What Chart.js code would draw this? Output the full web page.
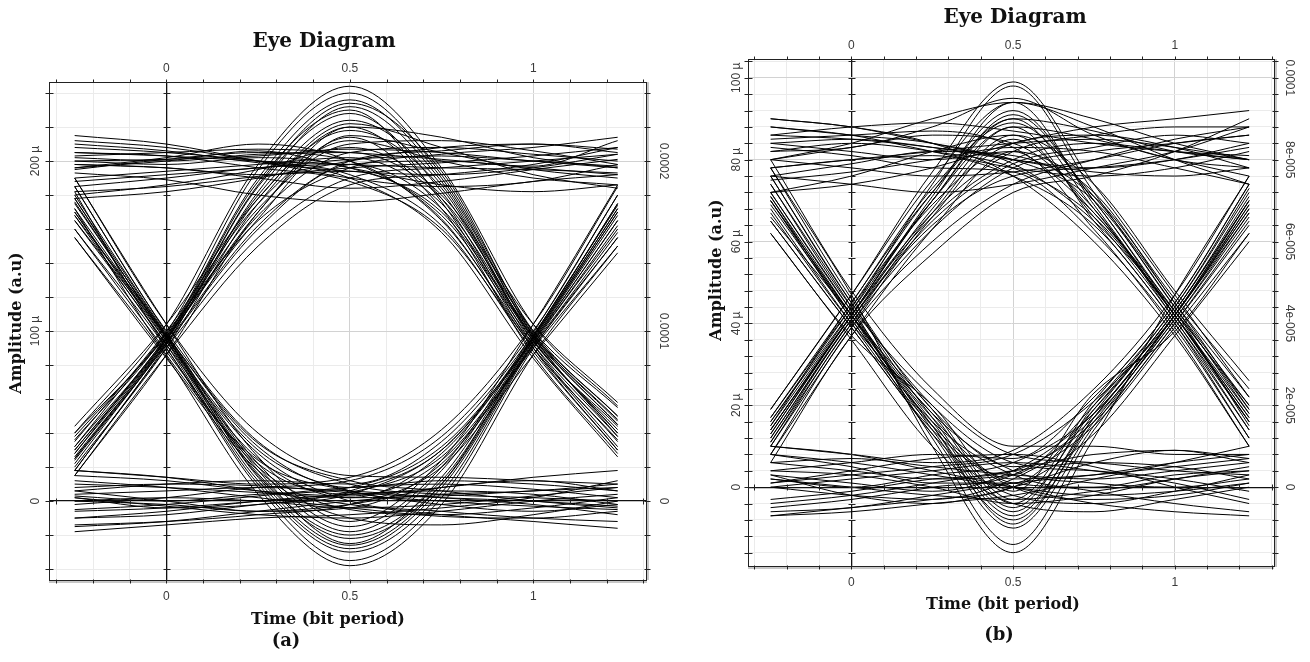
<!DOCTYPE html>
<html>
<head>
<meta charset="utf-8">
<script src="https://cdn.jsdelivr.net/npm/chart.js@4.4.1/dist/chart.umd.min.js"></script>
<style>
html, body { margin: 0; padding: 0; background: #fff; }
#wrapA { position: absolute; left: 0; top: 0; width: 700px; height: 662px; }
#wrapB { position: absolute; left: 700px; top: 0; width: 610px; height: 662px; }
</style>
</head>
<body>
<div id="wrapA"><canvas id="chartA" width="700" height="662"></canvas></div>
<div id="wrapB"><canvas id="chartB" width="610" height="662"></canvas></div>
<script>
// time samples of every trace (bit period)
const tSamples = [-0.25, 0, 0.25, 0.5, 0.75, 1, 1.23];

// shared x axis
const xMin = -0.32, xMax = 1.31;
const xGrid = [-0.3, -0.2, -0.1, 0, 0.1, 0.2, 0.3, 0.4, 0.5, 0.6, 0.7, 0.8, 0.9, 1, 1.1, 1.2, 1.3];
const xLabelVals = [0, 0.5, 1];
const xLabels = ['0', '0.5', '1'];

// ---- panel (a) : amplitude in µ ----
const yMinA = -47, yMaxA = 246.5;
const yGridA = [-40, -20, 0, 20, 40, 60, 80, 100, 120, 140, 160, 180, 200, 220, 240];
const yLabelValsA = [0, 100, 200];
const yLeftLabelsA = ['0', '100 µ', '200 µ'];
const yRightLabelsA = ['0', '0.0001', '0.0002'];

const a111 = [
  [205, 203, 200, 198, 196, 195, 193],
  [188, 192, 196, 201, 203, 200, 197],
  [198, 196, 190, 184, 188, 195, 201],
  [210, 206, 199, 194, 192, 196, 204],
  [182, 185, 191, 196, 199, 203, 208],
  [200, 201, 203, 207, 205, 200, 196],
  [193, 189, 180, 176, 181, 188, 192],
  [203, 205, 207, 205, 201, 197, 212],
  [215, 210, 200, 190, 185, 188, 198],
  [178, 182, 190, 200, 208, 210, 205],
  [196, 200, 206, 196, 186, 182, 186]
];
const a000 = [
  [2, -3, -8, -10, -6, 0, 4],
  [8, 10, 9, 5, 2, 0, -3],
  [-5, -2, 3, 8, 10, 7, 2],
  [12, 8, 2, -4, -9, -10, -6],
  [-15, -12, -6, 0, 4, 6, 10],
  [4, 6, 8, 6, 2, -2, -8],
  [0, 2, 0, -4, -2, 3, 8],
  [-10, -6, 0, 4, 6, 4, -2],
  [18, 14, 6, -2, -8, -12, -16],
  [-18, -14, -10, -8, -4, 2, 12],
  [6, 0, -6, -2, 8, 12, 6]
];
const a100 = [
  [178, 96, 30, 6, 0, -3, -5],
  [168, 92, 25, 2, 3, 6, 8],
  [185, 100, 35, 10, 4, 2, 0],
  [160, 88, 20, -5, -8, -4, 2],
  [175, 98, 32, 8, 12, 10, 6],
  [170, 94, 28, 0, -6, -10, -12],
  [182, 90, 22, 4, 8, 14, 18],
  [165, 97, 34, 12, 6, 0, -4],
  [155, 84, 18, -10, -14, -8, 0],
  [190, 104, 40, 15, 14, 12, 10],
  [172, 86, 24, 6, -2, -6, -2]
];
const a110 = [
  [200, 198, 202, 196, 170, 96, 45],
  [195, 201, 205, 200, 165, 92, 38],
  [205, 203, 196, 188, 160, 90, 32],
  [190, 194, 198, 202, 175, 98, 50],
  [198, 196, 192, 194, 168, 94, 40],
  [208, 205, 200, 192, 162, 88, 30],
  [185, 190, 196, 198, 172, 97, 48],
  [202, 200, 204, 205, 178, 100, 55],
  [212, 208, 200, 190, 158, 84, 26],
  [180, 186, 195, 208, 180, 104, 58],
  [196, 202, 210, 200, 166, 90, 36]
];
const a011 = [
  [30, 95, 168, 205, 208, 204, 200],
  [22, 92, 160, 198, 200, 196, 192],
  [38, 98, 172, 210, 212, 206, 198],
  [18, 90, 155, 190, 196, 200, 204],
  [28, 96, 166, 215, 205, 195, 190],
  [35, 100, 175, 212, 200, 190, 186],
  [25, 93, 162, 200, 206, 210, 207],
  [40, 97, 170, 220, 214, 202, 196],
  [15, 86, 150, 186, 192, 198, 208],
  [44, 104, 178, 222, 208, 192, 184],
  [32, 99, 165, 196, 204, 208, 214]
];
const a001 = [
  [3, 0, 4, 8, 32, 95, 165],
  [-6, -4, 0, 5, 26, 92, 158],
  [10, 8, 5, 2, 28, 96, 170],
  [0, -2, -6, -4, 22, 90, 150],
  [6, 10, 12, 10, 35, 98, 175],
  [-10, -8, -2, 4, 30, 94, 162],
  [15, 12, 6, 3, 24, 91, 155],
  [-2, 2, 8, 12, 38, 100, 180],
  [-14, -12, -8, -2, 20, 86, 146],
  [18, 14, 10, 14, 42, 104, 185],
  [2, -4, -2, 6, 30, 97, 172]
];
const a010 = [
  [25, 94, 185, 228, 182, 96, 40],
  [32, 97, 190, 236, 190, 98, 45],
  [20, 90, 175, 220, 178, 92, 35],
  [36, 99, 195, 240, 192, 100, 50],
  [28, 95, 180, 224, 186, 95, 42],
  [18, 92, 182, 232, 188, 97, 38],
  [30, 96, 188, 230, 176, 90, 30],
  [24, 93, 178, 218, 184, 94, 44],
  [40, 104, 198, 244, 196, 104, 56],
  [15, 86, 170, 214, 172, 86, 28],
  [26, 95, 186, 234, 194, 99, 47]
];
const a101 = [
  [172, 95, 15, -22, 10, 94, 168],
  [180, 98, 20, -18, 18, 97, 175],
  [165, 92, 10, -30, 5, 92, 160],
  [176, 96, 18, -25, 14, 96, 172],
  [160, 90, 8, -35, 2, 90, 155],
  [185, 99, 22, -15, 20, 99, 180],
  [170, 94, 12, -28, 8, 93, 165],
  [168, 97, 16, -20, 12, 95, 170],
  [190, 104, 26, -12, 24, 104, 186],
  [155, 85, 4, -38, -2, 86, 150],
  [178, 97, 14, -26, 10, 97, 174]
];

// ---- panel (b) : amplitude in µ ----
const yMinB = -19.5, yMaxB = 104.6;
const yGridB = [-16, -12, -8, -4, 0, 4, 8, 12, 16, 20, 24, 28, 32, 36, 40, 44, 48, 52, 56, 60,
  64, 68, 72, 76, 80, 84, 88, 92, 96, 100, 104];
const yLabelValsB = [0, 20, 40, 60, 80, 100];
const yLeftLabelsB = ['0', '20 µ', '40 µ', '60 µ', '80 µ', '100 µ'];
const yRightLabelsB = ['0', '2e-005', '4e-005', '6e-005', '8e-005', '0.0001'];

const b111 = [
  [84, 85, 83, 80, 78, 80, 84],
  [78, 80, 82, 84, 85, 83, 80],
  [88, 86, 82, 78, 76, 78, 82],
  [80, 78, 76, 77, 80, 84, 86],
  [75, 77, 80, 83, 82, 78, 74],
  [86, 88, 89, 87, 84, 82, 81],
  [82, 83, 88, 95, 86, 80, 78],
  [76, 74, 72, 74, 78, 82, 88],
  [90, 88, 84, 80, 77, 76, 78],
  [72, 74, 78, 84, 88, 90, 92],
  [80, 84, 90, 94, 90, 84, 80]
];
const b000 = [
  [2, 0, -2, -3, -1, 2, 5],
  [6, 7, 5, 3, 2, 4, 6],
  [-4, -2, 1, 4, 6, 5, 2],
  [8, 6, 3, 0, -2, -1, 1],
  [0, 2, 4, 6, 4, 1, -3],
  [-6, -5, -2, 1, 3, 6, 8],
  [4, 3, 0, -4, -2, 2, 4],
  [1, 4, 7, 8, 5, 0, -4],
  [10, 8, 4, 0, -4, -6, -7],
  [-7, -6, -4, -2, 2, 6, 10],
  [3, -2, -4, 0, 6, 9, 7]
];
const b100 = [
  [72, 43, 18, 4, 1, 0, 2],
  [68, 40, 15, 2, 3, 5, 7],
  [76, 45, 20, 6, 4, 2, -1],
  [65, 39, 14, 0, -3, -2, 1],
  [74, 44, 22, 8, 6, 4, 3],
  [70, 41, 16, 3, -1, -4, -6],
  [78, 46, 19, 5, 8, 9, 6],
  [66, 42, 17, 1, 0, 3, 4],
  [62, 36, 10, -4, -6, -3, 0],
  [80, 48, 24, 10, 10, 8, 8],
  [71, 42, 13, -2, -4, -1, 3]
];
const b110 = [
  [82, 84, 82, 78, 66, 42, 18],
  [86, 85, 83, 80, 70, 44, 20],
  [78, 80, 81, 76, 64, 40, 14],
  [84, 82, 80, 82, 72, 45, 22],
  [80, 83, 86, 84, 68, 41, 16],
  [88, 86, 84, 79, 65, 43, 19],
  [76, 79, 82, 81, 71, 46, 24],
  [83, 81, 78, 77, 62, 39, 12],
  [90, 88, 84, 76, 60, 37, 10],
  [72, 76, 82, 86, 74, 48, 26],
  [85, 86, 87, 83, 67, 42, 17]
];
const b011 = [
  [14, 42, 66, 80, 84, 82, 80],
  [10, 40, 63, 78, 82, 84, 86],
  [17, 44, 69, 84, 86, 83, 78],
  [12, 41, 64, 76, 78, 80, 83],
  [16, 43, 70, 88, 85, 80, 76],
  [8, 39, 60, 74, 80, 85, 88],
  [15, 45, 72, 90, 87, 82, 80],
  [11, 41, 65, 79, 83, 86, 84],
  [6, 37, 57, 72, 76, 82, 90],
  [19, 47, 75, 94, 88, 80, 74],
  [13, 42, 67, 82, 86, 88, 88]
];
const b001 = [
  [2, 0, 3, 6, 18, 42, 68],
  [-3, -1, 2, 4, 16, 40, 64],
  [6, 4, 2, 3, 20, 44, 72],
  [0, -2, -3, 2, 15, 39, 62],
  [4, 6, 8, 7, 22, 45, 74],
  [-5, -3, 0, 3, 17, 41, 66],
  [8, 5, 1, 1, 19, 43, 70],
  [1, 3, 5, 8, 21, 42, 69],
  [-7, -5, -3, 0, 13, 37, 60],
  [10, 8, 6, 9, 24, 47, 76],
  [3, 1, -1, 4, 18, 42, 67]
];
const b010 = [
  [13, 42, 70, 90, 68, 42, 16],
  [15, 43, 74, 98, 72, 44, 18],
  [11, 40, 67, 86, 66, 41, 14],
  [16, 44, 72, 92, 70, 43, 20],
  [12, 41, 68, 88, 65, 40, 12],
  [14, 42, 71, 94, 69, 42, 17],
  [10, 39, 66, 85, 67, 43, 15],
  [17, 45, 73, 89, 71, 45, 19],
  [19, 47, 77, 99, 74, 47, 22],
  [8, 37, 63, 82, 63, 38, 10],
  [14, 42, 70, 91, 70, 42, 16]
];
const b101 = [
  [70, 42, 16, -6, 17, 42, 68],
  [74, 44, 12, -14, 14, 40, 65],
  [67, 40, 18, -4, 19, 43, 71],
  [72, 43, 14, -8, 16, 41, 67],
  [76, 45, 17, -5, 20, 44, 73],
  [65, 39, 13, -10, 15, 42, 69],
  [71, 41, 15, -7, 18, 43, 70],
  [69, 42, 19, -3, 21, 45, 74],
  [78, 47, 10, -16, 12, 47, 76],
  [62, 37, 20, -1, 23, 38, 62],
  [70, 42, 15, -9, 17, 42, 70]
];

const serif = '"DejaVu Serif", "Liberation Serif", serif';
const sans = '"Liberation Sans", Arial, sans-serif';

// 把每条轨迹变成一个数据集
function traceSets(groups) {
  const sets = [];
  groups.forEach(g => g.forEach(tr => {
    sets.push({
      data: tr.map((v, i) => ({ x: tSamples[i], y: v })),
      borderColor: '#000',
      borderWidth: 1,
      pointRadius: 0,
      fill: false,
      cubicInterpolationMode: 'monotone'
    });
  }));
  return sets;
}

// 边框、刻度、文字
function framePlugin(p) {
  return {
    id: 'frame' + p.name,
    afterDraw(chart) {
      const ctx = chart.ctx;
      const a = chart.chartArea;
      const xs = chart.scales.x, ys = chart.scales.y;
      const L = Math.round(a.left) + 0.5, R = Math.round(a.right) - 0.5;
      const T = Math.round(a.top) + 0.5, B = Math.round(a.bottom) - 0.5;
      const x0 = Math.round(xs.getPixelForValue(0)) + 0.5;
      const y0 = Math.round(ys.getPixelForValue(0)) + 0.5;
      ctx.save();

      // frame
      ctx.strokeStyle = '#222';
      ctx.lineWidth = 1;
      ctx.strokeRect(L, T, R - L, B - T);

      // dotted fine ticks on bottom / right
      ctx.setLineDash([1, 1]);
      ctx.beginPath();
      ctx.moveTo(L, B + 1.5); ctx.lineTo(R, B + 1.5);
      ctx.moveTo(R + 1.5, T); ctx.lineTo(R + 1.5, B);
      ctx.stroke();
      ctx.setLineDash([]);

      // x ticks
      ctx.beginPath();
      xGrid.forEach(v => {
        const px = Math.round(xs.getPixelForValue(v)) + 0.5;
        ctx.moveTo(px, T - 3); ctx.lineTo(px, T);
        ctx.moveTo(px, B - 1); ctx.lineTo(px, B + 3);
        ctx.moveTo(px, y0 - 3); ctx.lineTo(px, y0 + 3);
      });
      // y ticks
      p.yGrid.forEach(v => {
        const py = Math.round(ys.getPixelForValue(v)) + 0.5;
        ctx.moveTo(L - 4, py); ctx.lineTo(L + 4, py);
        ctx.moveTo(R - 2, py); ctx.lineTo(R + 4, py);
        ctx.moveTo(x0 - 3, py); ctx.lineTo(x0 + 4, py);
      });
      ctx.stroke();

      // tick labels
      ctx.fillStyle = '#3a3a3a';
      ctx.font = '12px ' + sans;
      ctx.textAlign = 'center';
      ctx.textBaseline = 'middle';
      xLabelVals.forEach((v, i) => {
        const px = xs.getPixelForValue(v);
        ctx.fillText(xLabels[i], px, a.top - 13);
        ctx.fillText(xLabels[i], px, a.bottom + 16);
      });
      p.yLabelVals.forEach((v, i) => {
        const py = ys.getPixelForValue(v);
        ctx.save();
        ctx.translate(a.left - p.leftOff, py);
        ctx.rotate(-Math.PI / 2);
        ctx.fillText(p.yLeft[i], 0, 0);
        ctx.restore();
        ctx.save();
        ctx.translate(a.right + p.rightOff, py);
        ctx.rotate(Math.PI / 2);
        ctx.fillText(p.yRight[i], 0, 0);
        ctx.restore();
      });

      // titles
      ctx.fillStyle = '#111';
      ctx.font = 'bold 20px ' + serif;
      ctx.fillText('Eye Diagram', p.title[0], p.title[1]);
      ctx.font = 'bold 16px ' + serif;
      ctx.fillText('Time (bit period)', p.xTitle[0], p.xTitle[1]);
      ctx.save();
      ctx.translate(p.yTitle[0], p.yTitle[1]);
      ctx.rotate(-Math.PI / 2);
      ctx.fillText('Amplitude (a.u)', 0, 0);
      ctx.restore();
      ctx.font = 'bold 18px ' + serif;
      ctx.fillText(p.caption, p.capPos[0], p.capPos[1]);
      ctx.restore();
    }
  };
}

function makeEye(canvasId, p) {
  const gridX = {
    drawTicks: false,
    color: c => c.tick.value === 0 ? '#111' : (xLabelVals.includes(c.tick.value) ? '#d2d2d2' : '#ebebeb'),
    lineWidth: c => c.tick.value === 0 ? 1.3 : 1
  };
  const gridY = {
    drawTicks: false,
    color: c => c.tick.value === 0 ? '#111' : (p.yLabelVals.includes(c.tick.value) ? '#d2d2d2' : '#ebebeb'),
    lineWidth: c => c.tick.value === 0 ? 1.3 : 1
  };
  return new Chart(document.getElementById(canvasId), {
    type: 'line',
    data: { datasets: traceSets(p.groups) },
    options: {
      responsive: false,
      animation: false,
      events: [],
      layout: { padding: p.padding },
      plugins: { legend: { display: false }, tooltip: { enabled: false }, title: { display: false } },
      scales: {
        x: {
          type: 'linear', min: xMin, max: xMax,
          afterFit: s => { s.height = 0; },
          afterBuildTicks: s => { s.ticks = xGrid.map(v => ({ value: v })); },
          ticks: { display: false },
          grid: gridX,
          border: { display: false }
        },
        y: {
          type: 'linear', min: p.yMin, max: p.yMax,
          afterFit: s => { s.width = 0; },
          afterBuildTicks: s => { s.ticks = p.yGrid.map(v => ({ value: v })); },
          ticks: { display: false },
          grid: gridY,
          border: { display: false }
        }
      }
    },
    plugins: [framePlugin(p)]
  });
}

makeEye('chartA', {
  name: 'A',
  groups: [a111, a000, a100, a110, a011, a001, a010, a101],
  yMin: yMinA, yMax: yMaxA, yGrid: yGridA,
  yLabelVals: yLabelValsA, yLeft: yLeftLabelsA, yRight: yRightLabelsA,
  padding: { left: 49, top: 82, right: 53, bottom: 81 },
  leftOff: 13, rightOff: 16,
  title: [324, 42], xTitle: [328, 620], yTitle: [17, 323],
  caption: '(a)', capPos: [286, 641]
});

makeEye('chartB', {
  name: 'B',
  groups: [b111, b000, b100, b110, b011, b001, b010, b101],
  yMin: yMinB, yMax: yMaxB, yGrid: yGridB,
  yLabelVals: yLabelValsB, yLeft: yLeftLabelsB, yRight: yRightLabelsB,
  padding: { left: 48, top: 59, right: 35, bottom: 95 },
  leftOff: 11, rightOff: 14,
  title: [315, 18], xTitle: [303, 605], yTitle: [17, 270],
  caption: '(b)', capPos: [299, 635]
});
</script>
</body>
</html>
